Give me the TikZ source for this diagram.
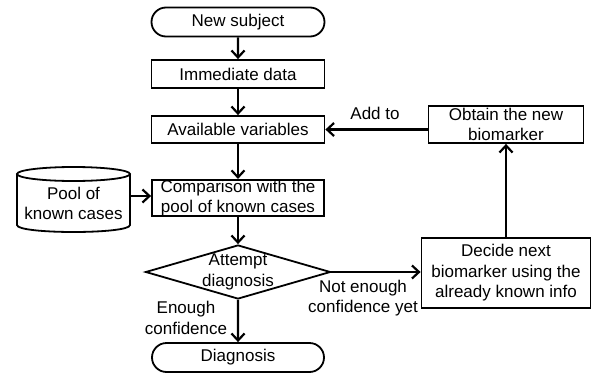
\documentclass[tikz,border=0pt]{standalone}
\usepackage{fontspec}
\setmainfont{Liberation Sans}
\usetikzlibrary{shapes.geometric,shapes.misc,arrows.meta}
\begin{document}
\begin{tikzpicture}[x=1pt,y=-1pt,
 every node/.style={font=\fontsize{17}{20.5}\selectfont},
 box/.style={draw, line width=1.8pt, inner sep=0pt, align=center},
 term/.style={draw, rounded rectangle, line width=1.8pt, inner sep=0pt},
 arr/.style={line width=2.2pt, -{Straight Barb[length=7pt,width=13pt]}},
 lbl/.style={align=center, inner sep=0pt}]
\useasboundingbox (0,0) rectangle (592,375);
\node[term, minimum width=173pt, minimum height=29pt] (ns) at (238,22) {New subject};
\node[box, minimum width=173pt, minimum height=28pt] (imm) at (238,74) {Immediate data};
\node[box, minimum width=173pt, minimum height=27pt] (av) at (238,129.5) {Available variables};
\node[box, minimum width=172pt, minimum height=34pt] (cmp) at (238,198) {Comparison with the\\pool of known cases};
\node[diamond, draw, line width=1.8pt, minimum width=185pt, minimum height=54pt, inner sep=0pt] (att) at (238,272) {};
\node[lbl] (attt) at (att) {Attempt\\diagnosis};
\node[term, minimum width=172pt, minimum height=29pt] (dg) at (238,357.5) {Diagnosis};
\node[box, minimum width=169pt, minimum height=70pt] (dec) at (506,273) {Decide next\\biomarker using the\\already known info};
\node[box, minimum width=155pt, minimum height=37pt] (obt) at (506,124.5) {Obtain the new\\biomarker};
% cylinder
\draw[line width=1.8pt] (17,174) -- (17,225) .. controls (17,234.33) and (130,234.33) .. (130,225) -- (130,174);
\draw[line width=1.8pt] (73.5,174) ellipse [x radius=56.5pt, y radius=7pt];
\node[lbl] (pool) at (73.5,203.5) {Pool of\\known cases};
\coordinate (poolE) at (130,196);
% arrows
\draw[arr] (ns) -- (imm);
\draw[arr] (imm) -- (av);
\draw[arr] (av) -- (cmp);
\draw[arr] (cmp) -- (att);
\draw[arr] (att) -- (dg);
\draw[arr] (poolE) -- (poolE -| cmp.west);
\draw[arr] (att.east) -- (att.east -| dec.west);
\draw[arr] (dec.north) -- (obt.south);
\draw[arr] (obt.west |- av.east) -- (av.east);
% labels
\node[lbl] (addto) at (375,113) {Add to};
\node[lbl] (nec) at (363,298) {Not enough\\confidence yet};
\node[lbl] (enc) at (186,318) {Enough\\confidence};
\end{tikzpicture}
\end{document}
